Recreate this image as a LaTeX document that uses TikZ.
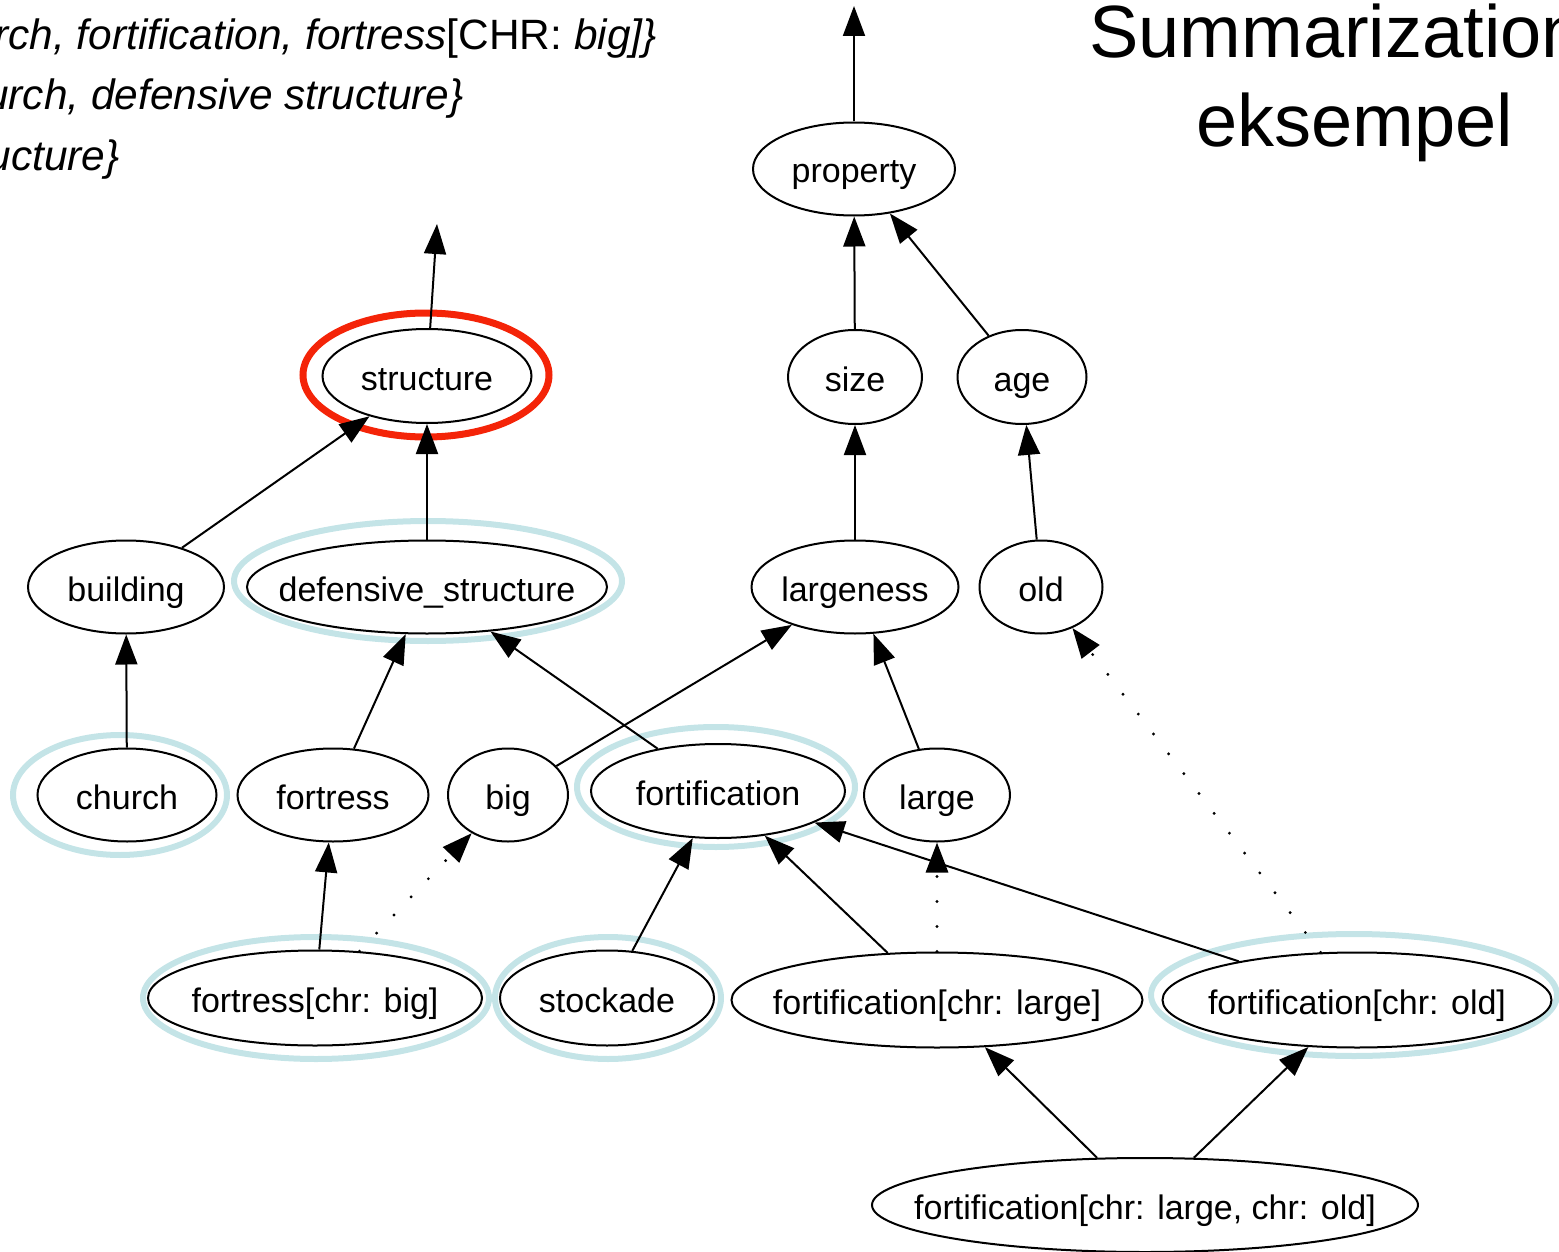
\documentclass[tikz,border=0pt]{standalone}
\usepackage{fontspec}
\setmainfont{Liberation Sans}
\usetikzlibrary{shapes.geometric,arrows.meta}
\definecolor{ringblue}{RGB}{196,228,231}
\definecolor{ringred}{RGB}{244,36,8}
\newcommand\gtxt[1]{\makebox[0pt]{#1}}
\tikzset{
  gnode/.style={ellipse, draw, line width=1pt, inner sep=0pt, fill=white,
    text height=16pt, text depth=2pt,
    font=\fontsize{17}{20}\selectfont},
  edge/.style={line width=1pt, -{Triangle[length=15pt,width=11pt]}},
  dotedge/.style={line width=1.6pt, dash pattern=on 0pt off 12.5pt, line cap=round,
    -{Triangle[length=15pt,width=11pt]}},
  ring/.style={draw=ringblue, line width=3pt},
  redring/.style={draw=ringred, line width=3.5pt},
  toptext/.style={anchor=base east, inner sep=0pt, font=\fontsize{21.2}{25}\selectfont\itshape},
  titletext/.style={anchor=base west, inner sep=0pt, font=\fontsize{37}{44}\selectfont},
}
\begin{document}
\begin{tikzpicture}[x=0.5pt,y=-0.5pt]
\useasboundingbox (0,0) rectangle (1559,1252);
\clip (0,0) rectangle (1559,1252);

% texts
\node[toptext] (t1) at (657,50) {rch, fortification, fortress\upshape[CHR: \itshape big]\}};
\node[toptext] (t2) at (464,110) {urch, defensive structure\}};
\node[toptext] (t3) at (120,170) {ucture\}};
\node[titletext] (title1) at (1089,58) {Summarization};
\node[titletext] (title2) at (1196,147) {eksempel};

% rings
\draw[redring] (426,375) ellipse [x radius=123, y radius=62];
\draw[ring] (428,581) ellipse [x radius=194, y radius=60];
\draw[ring] (120,795) ellipse [x radius=107, y radius=60];
\draw[ring] (716,787) ellipse [x radius=139, y radius=60];
\draw[ring] (316,998) ellipse [x radius=173, y radius=61];
\draw[ring] (608,998) ellipse [x radius=113, y radius=61];
\draw[ring] (1354,995) ellipse [x radius=203, y radius=61];

% nodes
\node[gnode, minimum width=101pt, minimum height=46.5pt] (property) at (854,169) {\gtxt{property}};
\node[gnode, minimum width=67pt, minimum height=47pt] (size) at (855,377) {\gtxt{size}};
\node[gnode, minimum width=64.5pt, minimum height=47pt] (age) at (1022,377) {\gtxt{age}};
\node[gnode, minimum width=104.5pt, minimum height=47pt] (structure) at (427,376) {\gtxt{structure}};
\node[gnode, minimum width=98pt, minimum height=46.5pt] (building) at (126,587) {\gtxt{building}};
\node[gnode, minimum width=180pt, minimum height=46.5pt] (defensive) at (427,587) {\gtxt{defensive\_structure}};
\node[gnode, minimum width=103.5pt, minimum height=46.5pt] (largeness) at (855,587) {\gtxt{largeness}};
\node[gnode, minimum width=61.5pt, minimum height=46.5pt] (old) at (1041,587) {\gtxt{old}};
\node[gnode, minimum width=89.5pt, minimum height=46.5pt] (church) at (127,795) {\gtxt{church}};
\node[gnode, minimum width=95.5pt, minimum height=46.5pt] (fortress) at (333,795) {\gtxt{fortress}};
\node[gnode, minimum width=60pt, minimum height=46.5pt] (big) at (508,795) {\gtxt{big}};
\node[gnode, minimum width=127pt, minimum height=47pt] (fortification) at (718,791) {\gtxt{fortification}};
\node[gnode, minimum width=73pt, minimum height=46.5pt] (large) at (937,795) {\gtxt{large}};
\node[gnode, minimum width=167pt, minimum height=47.5pt] (fbig) at (315,998) {\gtxt{fortress[chr: big]}};
\node[gnode, minimum width=107pt, minimum height=47.5pt] (stockade) at (607,998) {\gtxt{stockade}};
\node[gnode, minimum width=205.5pt, minimum height=47.5pt] (flarge) at (937,1000) {\gtxt{fortification[chr: large]}};
\node[gnode, minimum width=194.5pt, minimum height=47.5pt] (fold) at (1357,1000) {\gtxt{fortification[chr: old]}};
\node[gnode, minimum width=273pt, minimum height=47pt] (flo) at (1145,1205) {\gtxt{fortification[chr: large, chr: old]}};

\coordinate (ptop) at (854,6);
\coordinate (stop) at (437,224);

% edges
\draw[edge] (property) -- (ptop);
\draw[edge] (structure) -- (stop);
\draw[edge] (size) -- (property);
\draw[edge] (age) -- (property);
\draw[edge] (building) -- (structure);
\draw[edge] (defensive) -- (structure);
\draw[edge] (largeness) -- (size);
\draw[edge] (old) -- (age);
\draw[edge] (church) -- (building);
\draw[edge] (fortress) -- (defensive);
\draw[edge] (fortification) -- (defensive);
\draw[edge] (big) -- (largeness);
\draw[edge] (large) -- (largeness);
\draw[edge] (fbig) -- (fortress);
\draw[dotedge] (fbig) -- (big);
\draw[edge] (stockade) -- (fortification);
\draw[edge] (flarge) -- (fortification);
\draw[dotedge] (flarge) -- (large);
\draw[edge] (fold) -- (fortification);
\draw[dotedge] (fold) -- (old);
\draw[edge] (flo) -- (flarge);
\draw[edge] (flo) -- (fold);
\end{tikzpicture}
\end{document}
